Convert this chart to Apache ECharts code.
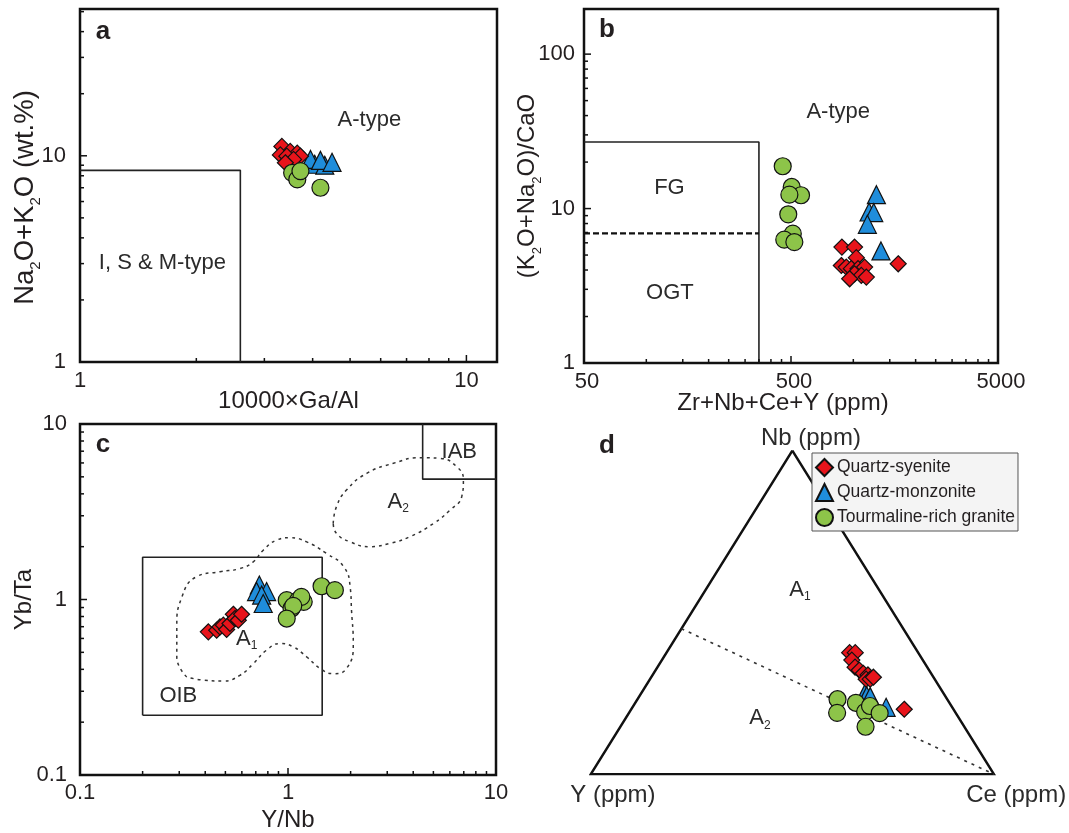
<!DOCTYPE html>
<html><head><meta charset="utf-8"><title>A-type granite discrimination diagrams</title>
<script src="https://cdn.jsdelivr.net/npm/echarts@6/dist/echarts.min.js"></script>
<style>html,body{margin:0;padding:0;background:#fff;}#chart{width:1069px;height:833px;}</style>
</head><body><div id="chart"></div>
<script>
// ---------------- DATA ----------------
const seriesNames = ['Quartz-syenite', 'Quartz-monzonite', 'Tourmaline-rich granite'];

// (a) 10000×Ga/Al  vs  Na2O+K2O (wt.%)
const aSyenite   = [[3.33,11.1],[3.50,10.5],[3.65,10.3],[3.72,9.96],[3.30,10.1],[3.43,9.96],[3.57,9.6],[3.40,9.25]];
const aMonzonite = [[4.05,9.1],[4.30,9.0],[3.95,9.6],[4.19,9.5],[4.49,9.3]];
const aGranite   = [[3.54,8.27],[3.65,7.68],[3.72,8.43],[4.19,7.0]];
const aBoundary  = [[1,8.5],[2.6,8.5],[2.6,1]];
const aXMajor = [1, 10];
const aXMinor = [2,3,4,5,6,7,8,9];
const aYMajor = [1, 10];
const aYMinor = [2,3,4,5,6,7,8,9,20,30,40,50];

// (b) Zr+Nb+Ce+Y (ppm)  vs  (K2O+Na2O)/CaO
const bSyenite   = [[881,5.63],[1014,5.63],[1034,4.81],[875,4.28],[925,4.18],[978,4.08],[1054,4.08],[1134,4.18],[1014,3.78],[1093,3.69],[960,3.51],[1156,3.60],[1648,4.39]];
const bMonzonite = [[1293,12.3],[1192,9.5],[1255,9.42],[1169,7.91],[1360,5.32]];
const bGranite   = [[456,18.8],[504,13.8],[559,12.2],[491,12.3],[485,9.18],[510,6.88],[464,6.29],[519,6.07]];
const bBoundary  = [[50,27],[350,27],[350,1]];
const bFGOGT     = [[50,6.9],[350,6.9]];
const bXMajor = [50, 500, 5000];
const bXMinor = [100,150,200,250,300,350,400,450,1000,1500,2000,2500,3000,3500,4000,4500];
const bYMajor = [1, 10, 100];
const bYMinor = [2,3,4,5,6,7,8,9,20,30,40,50,60,70,80,90];

// (c) Y/Nb  vs  Yb/Ta
const cSyenite   = [[0.414,0.654],[0.454,0.668],[0.471,0.698],[0.489,0.714],[0.507,0.675],[0.526,0.730],[0.546,0.824],[0.556,0.779],[0.577,0.762],[0.598,0.824]];
const cMonzonite = [[0.728,1.21],[0.706,1.11],[0.789,1.11],[0.747,1.06],[0.760,0.949]];
const cGranite   = [[0.986,0.991],[1.12,0.991],[1.19,0.970],[1.16,1.035],[1.04,0.889],[1.06,0.92],[0.986,0.779],[1.45,1.19],[1.68,1.13]];
const cOIB = [[0.2,0.219],[1.46,0.219],[1.46,1.74],[0.2,1.74],[0.2,0.219]];
const cIAB = [[4.44,10],[4.44,4.85],[10,4.85]];
const cA1Field = [[0.326,0.362],[0.292,0.471],[0.292,0.698],[0.309,1.035],[0.364,1.35],[0.471,1.44],[0.587,1.50],[0.681,1.64],[0.760,1.91],[0.882,2.18],[1.02,2.25],[1.23,2.13],[1.53,1.83],[1.85,1.54],[1.99,1.18],[2.02,0.869],[2.06,0.561],[1.91,0.404],[1.65,0.378],[1.43,0.404],[1.23,0.471],[1.06,0.537],[0.915,0.561],[0.788,0.514],[0.681,0.431],[0.587,0.370],[0.489,0.343],[0.392,0.347],[0.326,0.362]];
const cA2Field = [[1.65,2.71],[1.71,3.38],[1.91,4.20],[2.39,5.23],[3.21,5.97],[4.31,6.43],[5.38,6.37],[6.47,5.71],[6.97,4.80],[6.84,3.85],[6.01,3.23],[5.00,2.71],[3.86,2.28],[3.09,2.09],[2.48,2.00],[1.99,2.13],[1.71,2.38],[1.65,2.71]];
const cXMajor = [0.1, 1, 10];
const cXMinor = [0.2,0.3,0.4,0.5,0.6,0.7,0.8,0.9,2,3,4,5,6,7,8,9];
const cYMajor = [0.1, 1, 10];
const cYMinor = [0.2,0.3,0.4,0.5,0.6,0.7,0.8,0.9,2,3,4,5,6,7,8,9];

// (d) Nb–Y–Ce ternary, fractions [Nb, Y, Ce]
const dSyenite   = [[0.376,0.170,0.454],[0.376,0.156,0.468],[0.353,0.176,0.471],[0.331,0.179,0.490],[0.322,0.173,0.505],[0.312,0.168,0.520],[0.307,0.159,0.534],[0.294,0.170,0.536],[0.294,0.160,0.546],[0.300,0.149,0.551],[0.201,0.122,0.677]];
const dMonzonite = [[0.250,0.195,0.555],[0.243,0.194,0.563],[0.240,0.187,0.573],[0.207,0.164,0.629]];
const dGranite   = [[0.232,0.272,0.496],[0.190,0.294,0.516],[0.221,0.232,0.547],[0.193,0.223,0.584],[0.211,0.202,0.587],[0.189,0.190,0.622],[0.147,0.245,0.608]];
const dTriangle  = [[1,0,0],[0,1,0],[0,0,1],[1,0,0]];
const dA1A2Line  = [[0.45,0.55,0],[0,0,1]];

// ---------------- STYLE / BUILD ----------------
const FONT = '"Liberation Sans", Arial, Helvetica, sans-serif';
const TXT = '#231f20';
const SYM = {
  'Quartz-syenite':          {symbol:'diamond',  size:16, color:'#e8141b'},
  'Quartz-monzonite':        {symbol:'triangle', size:18, color:'#1f8ddb'},
  'Tourmaline-rich granite': {symbol:'circle',   size:17, color:'#8dc449'}
};
const ternXY = p => [p[2] + p[0] / 2, p[0]];   // [Nb, Y, Ce] -> x,y in triangle

function scatter(gi, name, data) {
  const s = SYM[name];
  return {type:'scatter', name, xAxisIndex:gi, yAxisIndex:gi, data,
    symbol:s.symbol, symbolSize:s.size, z:10,
    itemStyle:{color:s.color, borderColor:'#111', borderWidth:1.2, opacity:1},
    emphasis:{disabled:true}};
}
function line(gi, data, lineStyle, smooth) {
  return {type:'line', xAxisIndex:gi, yAxisIndex:gi, data, symbol:'none', silent:true,
    smooth: smooth || false, z:3, lineStyle: Object.assign({color:'#222', width:1.5}, lineStyle)};
}
function fmt(v) { return String(v); }
function furniture(gi, cfg) {
  const items = [];
  (cfg.xMajor||[]).forEach(v => { items.push({k:'xt', x:v, y:cfg.yMin, len:7}); items.push({k:'xl', x:v, y:cfg.yMin, text:fmt(v)}); });
  (cfg.xMinor||[]).forEach(v => items.push({k:'xt', x:v, y:cfg.yMin, len:4}));
  (cfg.yMajor||[]).forEach(v => { items.push({k:'yt', x:cfg.xMin, y:v, len:7}); items.push({k:'yl', x:cfg.xMin, y:v, text:fmt(v)}); });
  (cfg.yMinor||[]).forEach(v => items.push({k:'yt', x:cfg.xMin, y:v, len:4}));
  (cfg.texts||[]).forEach(t => items.push(Object.assign({k:'tx'}, t)));
  return {type:'custom', xAxisIndex:gi, yAxisIndex:gi, silent:true, clip:false, z:5,
    data: items.map(it => [it.x, it.y]), encode:{x:0, y:1},
    renderItem(params, api) {
      const it = items[params.dataIndex];
      const p = api.coord([it.x, it.y]);
      if (it.k === 'xt') return {type:'line', shape:{x1:p[0], y1:p[1], x2:p[0], y2:p[1]-it.len}, style:{stroke:'#111', lineWidth:1.5}};
      if (it.k === 'yt') return {type:'line', shape:{x1:p[0], y1:p[1], x2:p[0]+it.len, y2:p[1]}, style:{stroke:'#111', lineWidth:1.5}};
      if (it.k === 'xl') return {type:'text', x:p[0] + (cfg.xLabelDx || 0), y:p[1] + cfg.xLabelDy,
        style:{text:it.text, fill:TXT, fontSize:22, fontFamily:FONT, align:'center', verticalAlign:'middle', textAlign:'center', textVerticalAlign:'middle'}};
      if (it.k === 'yl') return {type:'text', x:p[0] - cfg.yLabelDx, y:p[1],
        style:{text:it.text, fill:TXT, fontSize:22, fontFamily:FONT, align:'right', verticalAlign:'middle', textAlign:'right', textVerticalAlign:'middle'}};
      return {type:'text', x:p[0], y:p[1],
        style:{text:it.text, fill:'#2b2b2b', fontSize:it.size || 22, fontFamily:FONT, align:'center', verticalAlign:'middle', textAlign:'center', textVerticalAlign:'middle',
          rich:{s:{fontSize:12, fontFamily:FONT, fill:'#2b2b2b', padding:[14,0,0,0]}}}};
    }};
}
function subRich(fs) { return {s:{fontSize:fs, fontFamily:FONT, color:TXT, padding:[20,0,0,0]}}; }
function logAxis(gi, min, max, name, gap, nameStyle) {
  return {type:'log', logBase:10, gridIndex:gi, min, max, name, nameLocation:'middle', nameGap:gap,
    nameTextStyle:Object.assign({fontSize:24, fontFamily:FONT, color:TXT, rich:subRich(13)}, nameStyle||{}),
    axisLine:{show:false}, axisTick:{show:false}, axisLabel:{show:false}, splitLine:{show:false}, minorTick:{show:false}};
}
function hiddenAxis(gi) {
  return {type:'value', gridIndex:gi, min:0, max:1, show:false, splitLine:{show:false}};
}
const frame = {show:true, borderColor:'#111', borderWidth:2.5, backgroundColor:'rgba(0,0,0,0)', outerBoundsMode:'none', containLabel:false};

const option = {
  animation:false,
  backgroundColor:'#ffffff',
  textStyle:{fontFamily:FONT, color:TXT},
  legend:{
    data: seriesNames, orient:'vertical', left:812, top:453,
    padding:[5,3,4,3], itemGap:6, itemWidth:17, itemHeight:17,
    backgroundColor:'#f4f4f4', borderColor:'#555', borderWidth:1, borderRadius:0,
    textStyle:{fontSize:17.5, color:TXT, fontFamily:FONT, padding:[0,0,0,-1]},
    selectedMode:false
  },
  grid:[
    Object.assign({left:80,  top:9,   width:417, height:353}, frame),
    Object.assign({left:584, top:9,   width:414, height:354}, frame),
    Object.assign({left:80,  top:424, width:416, height:351}, frame),
    {left:590.7, top:450.7, width:403.3, height:323.6, show:false, outerBoundsMode:'none', containLabel:false}
  ],
  xAxis:[
    logAxis(0, 1, 12, '10000×Ga/Al', 27),
    logAxis(1, 50, 5000, 'Zr+Nb+Ce+Y (ppm)', 28, {padding:[0,16,0,0]}),
    logAxis(2, 0.1, 10, 'Y/Nb', 33),
    hiddenAxis(3)
  ],
  yAxis:[
    logAxis(0, 1, 51.5, 'Na{s|2}O+K{s|2}O (wt.%)', 37, {fontSize:27.5, rich:subRich(15), padding:[0,24,0,0]}),
    logAxis(1, 1, 196, '(K{s|2}O+Na{s|2}O)/CaO', 40),
    logAxis(2, 0.1, 10, 'Yb/Ta', 44),
    hiddenAxis(3)
  ],
  graphic:[
    {type:'text', x:103, y:32,  style:{text:'a', font:'bold 26px ' + FONT, fill:TXT, textAlign:'center', textVerticalAlign:'middle'}},
    {type:'text', x:607, y:30,  style:{text:'b', font:'bold 26px ' + FONT, fill:TXT, textAlign:'center', textVerticalAlign:'middle'}},
    {type:'text', x:103, y:445, style:{text:'c', font:'bold 26px ' + FONT, fill:TXT, textAlign:'center', textVerticalAlign:'middle'}},
    {type:'text', x:607, y:446, style:{text:'d', font:'bold 26px ' + FONT, fill:TXT, textAlign:'center', textVerticalAlign:'middle'}}
  ],
  series:[
    // panel a
    line(0, aBoundary, {width:1.6}),
    furniture(0, {xMajor:aXMajor, xMinor:aXMinor, yMajor:aYMajor, yMinor:aYMinor, xMin:1, yMin:1, xLabelDy:19, yLabelDx:14,
      texts:[{x:5.61, y:15.0, text:'A-type'}, {x:1.634, y:3.02, text:'I, S & M-type'}]}),
    scatter(0, 'Quartz-monzonite', aMonzonite),
    scatter(0, 'Quartz-syenite', aSyenite),
    scatter(0, 'Tourmaline-rich granite', aGranite),
    // panel b
    line(1, bBoundary, {width:1.6}),
    line(1, bFGOGT, {width:2.2, type:[6,3], color:'#111'}),
    furniture(1, {xMajor:bXMajor, xMinor:bXMinor, yMajor:bYMajor, yMinor:bYMinor, xMin:50, yMin:1, xLabelDy:19, xLabelDx:3, yLabelDx:9,
      texts:[{x:845, y:42.4, text:'A-type'}, {x:129.3, y:13.7, text:'FG'}, {x:130, y:2.83, text:'OGT'}]}),
    scatter(1, 'Quartz-monzonite', bMonzonite),
    scatter(1, 'Quartz-syenite', bSyenite),
    scatter(1, 'Tourmaline-rich granite', bGranite),
    // panel c
    line(2, cOIB, {width:1.6}),
    line(2, cIAB, {width:1.6}),
    line(2, cA1Field, {width:1.5, type:[3,4], color:'#333'}, 0.5),
    line(2, cA2Field, {width:1.5, type:[3,4], color:'#333'}, 0.5),
    furniture(2, {xMajor:cXMajor, xMinor:cXMinor, yMajor:cYMajor, yMinor:cYMinor, xMin:0.1, yMin:0.1, xLabelDy:18, yLabelDx:13,
      texts:[{x:6.66, y:6.95, text:'IAB'}, {x:3.39, y:3.60, text:'A{s|2}'}, {x:0.633, y:0.599, text:'A{s|1}'}, {x:0.297, y:0.284, text:'OIB'}]}),
    scatter(2, 'Quartz-monzonite', cMonzonite),
    scatter(2, 'Quartz-syenite', cSyenite),
    scatter(2, 'Tourmaline-rich granite', cGranite),
    // panel d
    line(3, dTriangle.map(ternXY), {width:2.5, color:'#111', join:'miter'}),
    line(3, dA1A2Line.map(ternXY), {width:1.6, type:[3,5], color:'#333'}),
    furniture(3, {texts:[
      {x:0.546, y:1.039, text:'Nb (ppm)', size:24}, {x:0.055, y:-0.064, text:'Y (ppm)', size:24}, {x:1.055, y:-0.064, text:'Ce (ppm)', size:24},
      {x:0.519, y:0.570, text:'A{s|1}'}, {x:0.4197, y:0.173, text:'A{s|2}'}]}),
    scatter(3, 'Quartz-monzonite', dMonzonite.map(ternXY)),
    scatter(3, 'Quartz-syenite', dSyenite.map(ternXY)),
    scatter(3, 'Tourmaline-rich granite', dGranite.map(ternXY))
  ]
};
const chart = echarts.init(document.getElementById('chart'), null, {renderer:'canvas'});
chart.setOption(option);
</script></body></html>
